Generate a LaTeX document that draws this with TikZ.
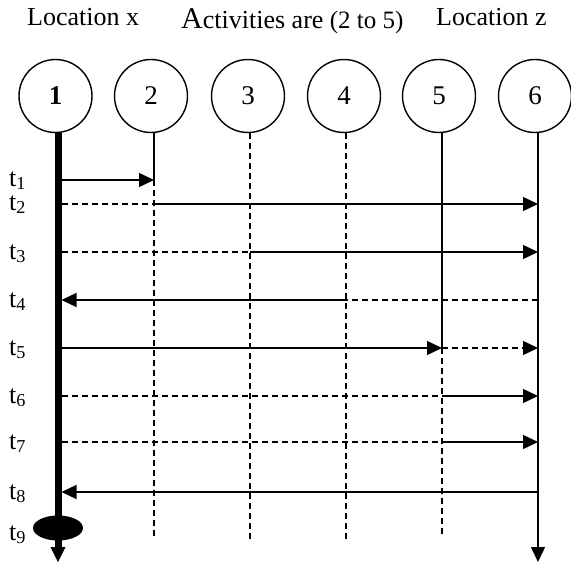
\documentclass[tikz,border=0pt]{standalone}
\usepackage{fontspec}
\setmainfont{Liberation Serif}
\usetikzlibrary{arrows.meta,shapes.geometric}
\begin{document}
\begin{tikzpicture}[x=1pt,y=-1pt,
 thinln/.style={line width=1.4pt},
 dashln/.style={line width=1.4pt, dash pattern=on 6pt off 4pt},
 arr/.style={-{Triangle[length=15pt,width=14pt]}},
 actor/.style={circle, draw, line width=1.4pt, minimum size=73pt, inner sep=0pt, font=\fontsize{27}{27}\selectfont},
 tlabel/.style={anchor=base west, inner sep=0pt, font=\fontsize{26}{26}\selectfont},
 titlelbl/.style={anchor=base west, inner sep=0pt, font=\fontsize{26}{26}\selectfont}]
\useasboundingbox (0,0) rectangle (571,562);

% titles
\node[titlelbl] (locx) at (27,25) {Location x};
\node[titlelbl] (act) at (181,28) {{\fontsize{30}{30}\selectfont A}ctivities are {\fontsize{25}{25}\selectfont (2 to 5)}};
\node[titlelbl] (locz) at (436,25) {Location z};

% actors
\node[actor] (c1) at (55.5,96) {\raisebox{-2pt}{\textbf{1}}};
\node[actor] (c2) at (151,96) {\raisebox{-2pt}{2}};
\node[actor] (c3) at (248,96) {\raisebox{-2pt}{3}};
\node[actor] (c4) at (344,96) {\raisebox{-2pt}{4}};
\node[actor] (c5) at (439,96) {\raisebox{-2pt}{5}};
\node[actor] (c6) at (535,96) {\raisebox{-2pt}{6}};

% lifeline coordinates
\foreach \j/\x in {1/58,2/154,3/250,4/346,5/442,6/538}
  \coordinate (top\j) at (\x,133);
\coordinate (bot1) at (58,562);
\coordinate (bot2) at (154,536);
\coordinate (bot3) at (250,540);
\coordinate (bot4) at (346,540);
\coordinate (bot5) at (442,537);
\coordinate (bot6) at (538,562);

% row coordinates
\foreach \r/\y in {1/180,2/204,3/252,4/300,5/348,6/396,7/442,8/492}
  \foreach \j/\x in {1/61.5,2/154,3/250,4/346,5/442,6/538}
    \coordinate (r\r-\j) at (\x,\y);

% end marker
\node[ellipse, fill, minimum width=50pt, minimum height=25pt, inner sep=0pt] (endm) at (58,528) {};

% lifelines
\draw[line width=7pt] (top1) -- (endm.center);
\draw[line width=7pt, -{Triangle[length=15pt,width=15pt,line width=0pt]}] (endm.center) -- (bot1);
\draw[thinln] (top2) -- (r1-2);
\draw[dashln] (r1-2) -- (bot2);
\draw[dashln] (top3) -- (bot3);
\draw[dashln] (top4) -- (bot4);
\draw[thinln] (top5) -- (r5-5);
\draw[dashln] (r5-5) -- (bot5);
\draw[thinln, arr] (top6) -- (bot6);

% messages
\draw[thinln, arr] (r1-1) -- (r1-2);
\draw[dashln] (r2-1) -- (r2-2);
\draw[thinln, arr] (r2-2) -- (r2-6);
\draw[dashln] (r3-1) -- (r3-3);
\draw[thinln, arr] (r3-3) -- (r3-6);
\draw[dashln] (r4-6) -- (r4-4);
\draw[thinln, arr] (r4-4) -- (r4-1);
\draw[thinln, arr] (r5-1) -- (r5-5);
\draw[dashln, arr] (r5-5) -- (r5-6);
\draw[dashln] (r6-1) -- (r6-5);
\draw[thinln, arr] (r6-5) -- (r6-6);
\draw[dashln] (r7-1) -- (r7-5);
\draw[thinln, arr] (r7-5) -- (r7-6);
\draw[thinln, arr] (r8-6) -- (r8-1);

% time labels
\node[tlabel] (t1) at (9,186) {t\textsubscript{1}};
\node[tlabel] (t2) at (9,210) {t\textsubscript{2}};
\node[tlabel] (t3) at (9,259) {t\textsubscript{3}};
\node[tlabel] (t4) at (9,307) {t\textsubscript{4}};
\node[tlabel] (t5) at (9,355) {t\textsubscript{5}};
\node[tlabel] (t6) at (9,403) {t\textsubscript{6}};
\node[tlabel] (t7) at (9,449) {t\textsubscript{7}};
\node[tlabel] (t8) at (9,499) {t\textsubscript{8}};
\node[tlabel] (t9) at (9,540) {t\textsubscript{9}};
\end{tikzpicture}
\end{document}
